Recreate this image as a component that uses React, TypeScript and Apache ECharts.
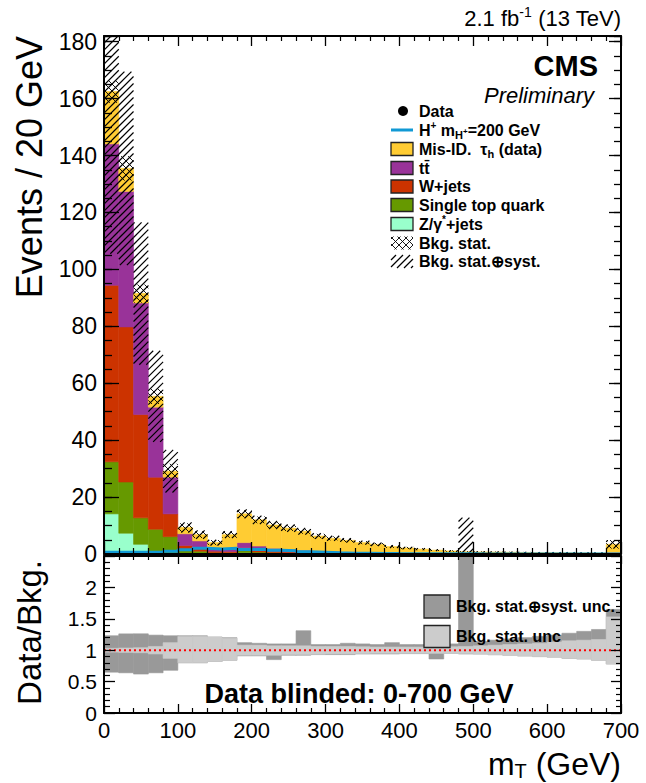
import React, { useEffect, useRef } from "react";
import * as echarts from "echarts";

const FONT = "'Liberation Sans', Arial, Helvetica, sans-serif";

// ---------------- data ----------------
const binEdges = [0, 20, 40, 60, 80, 100, 120, 140, 160, 180, 200, 220, 240, 260, 280, 300, 320, 340, 360, 380, 400, 420, 440, 460, 480, 500, 520, 540, 560, 580, 600, 620, 640, 660, 680, 700];

const zJets = [14.1, 7.3, 3.4, 0.6, 0.3, 0.3, 0.2, 0.1, 0.1, 0.4, 0.2, 0.1, 0.1, 0.1, 0.05, 0.05, 0.05, 0.03, 0.03, 0.02, 0.02, 0.02, 0.01, 0.01, 0.01, 0.01, 0.01, 0.01, 0, 0, 0, 0, 0, 0, 0.02];
const singleTop = [18.3, 18.0, 9.3, 8.1, 5.8, 0.9, 0.8, 0.4, 0.3, 0.8, 0.5, 0.4, 0.3, 0.3, 0.2, 0.2, 0.15, 0.1, 0.1, 0.08, 0.06, 0.05, 0.04, 0.03, 0.03, 0.02, 0.02, 0.02, 0.02, 0.01, 0.01, 0.01, 0.01, 0.01, 0.1];
const wJets = [62.0, 54.5, 36.3, 18.3, 8.0, 1.8, 1.2, 0.5, 0.5, 1.0, 0.6, 0.5, 0.4, 0.3, 0.25, 0.2, 0.2, 0.15, 0.1, 0.1, 0.08, 0.06, 0.05, 0.04, 0.03, 0.03, 0.03, 0.02, 0.02, 0.02, 0.02, 0.02, 0.01, 0.01, 0.15];
const ttbar = [49.7, 47.6, 39.2, 24.6, 12.9, 4.1, 2.4, 0.9, 0.9, 1.8, 1.5, 1.0, 0.8, 0.6, 0.5, 0.4, 0.35, 0.3, 0.25, 0.2, 0.15, 0.12, 0.1, 0.08, 0.07, 0.06, 0.06, 0.05, 0.05, 0.04, 0.04, 0.04, 0.03, 0.03, 0.3];
const misId = [18.4, 8.1, 3.3, 3.8, 2.1, 2.2, 2.2, 2.1, 5.0, 10.1, 9.2, 8.2, 7.5, 6.7, 5.3, 4.65, 4.05, 3.42, 2.92, 2.2, 1.79, 1.45, 1.15, 0.89, 0.66, 0.6, 0.55, 0.5, 0.45, 0.4, 0.38, 0.35, 0.33, 0.3, 2.83];
const signalH = [0.6, 0.6, 0.6, 0.7, 1.0, 1.5, 2.0, 1.8, 2.0, 1.6, 1.7, 1.3, 1.1, 0.8, 0.6, 0.4, 0.3, 0.25, 0.2, 0.15, 0.12, 0.1, 0.08, 0.06, 0.05, 0.04, 0.03, 0.02, 0.02, 0.01, 0.01, 0.01, 0.01, 0, 0];
const bkgSyst = [57, 34, 25, 16, 7.5, 1.8, 1.5, 1.0, 1.2, 1.6, 1.5, 1.4, 1.3, 1.2, 1.0, 0.9, 0.8, 0.7, 0.6, 0.5, 0.4, 0.35, 0.3, 0.25, 12, 0.2, 0.2, 0.2, 0.2, 0.18, 0.18, 0.18, 0.16, 0.16, 1.4];
const bkgStat = [4.0, 4.3, 3.2, 2.7, 2.6, 1.5, 1.2, 0.9, 1.1, 1.3, 1.2, 1.1, 1.0, 0.9, 0.8, 0.7, 0.6, 0.55, 0.5, 0.45, 0.4, 0.35, 0.3, 0.25, 0.2, 0.2, 0.2, 0.2, 0.2, 0.18, 0.18, 0.18, 0.16, 0.16, 1.5];

const ratioSystUp = [1.23, 1.26, 1.26, 1.24, 1.23, 1.23, 1.23, 1.21, 1.2, 1.12, 1.11, 1.1, 1.1, 1.31, 1.09, 1.09, 1.11, 1.1, 1.09, 1.12, 1.09, 1.09, 1.09, 1.1, 3.0, 1.14, 1.16, 1.18, 1.2, 1.22, 1.24, 1.27, 1.3, 1.33, 1.65];
const ratioSystDown = [0.65, 0.64, 0.62, 0.64, 0.68, 0.8, 0.8, 0.82, 0.84, 0.91, 0.91, 0.85, 0.92, 0.92, 0.93, 0.93, 0.93, 0.94, 0.94, 0.94, 0.945, 0.945, 0.86, 0.95, 0.94, 0.94, 0.93, 0.92, 0.91, 0.9, 0.89, 0.87, 0.86, 0.84, 0.78];
const ratioStatUp = [1.03, 1.035, 1.04, 1.06, 1.12, 1.22, 1.22, 1.21, 1.19, 1.08, 1.08, 1.07, 1.07, 1.07, 1.06, 1.06, 1.06, 1.055, 1.05, 1.05, 1.05, 1.05, 1.05, 1.055, 1.06, 1.07, 1.08, 1.09, 1.1, 1.11, 1.13, 1.15, 1.16, 1.17, 1.53];
const ratioStatDown = [0.97, 0.965, 0.96, 0.94, 0.87, 0.8, 0.8, 0.82, 0.84, 0.92, 0.92, 0.92, 0.93, 0.93, 0.935, 0.94, 0.94, 0.945, 0.95, 0.95, 0.95, 0.95, 0.95, 0.95, 0.945, 0.935, 0.925, 0.915, 0.905, 0.895, 0.885, 0.87, 0.86, 0.84, 0.78];

const upperYMax = 182;
const lowerYMax = 2.5;

const COLORS = {
  z: "#99ffcc",
  st: "#669900",
  w: "#cc3300",
  tt: "#993399",
  mis: "#ffcc33",
  sig: "#1199d4",
  dark: "#999999",
  light: "#cccccc",
};

// ---------------- helpers ----------------
function hatch(x0: number, y0: number, x1: number, y1: number, step: number, dir: number, lw = 1) {
  const out: any[] = [];
  if (x1 - x0 < 0.3 || y1 - y0 < 0.3) return out;
  const style = { stroke: "#000", lineWidth: lw };
  if (dir === 1) {
    const cMin = x0 + y0, cMax = x1 + y1;
    for (let c = Math.ceil(cMin / step) * step; c <= cMax; c += step) {
      const xa = Math.max(x0, c - y1), xb = Math.min(x1, c - y0);
      if (xb > xa) out.push({ type: "line", shape: { x1: xa, y1: c - xa, x2: xb, y2: c - xb }, style });
    }
  } else {
    const cMin = y0 - x1, cMax = y1 - x0;
    for (let c = Math.ceil(cMin / step) * step; c <= cMax; c += step) {
      const xa = Math.max(x0, y0 - c), xb = Math.min(x1, y1 - c);
      if (xb > xa) out.push({ type: "line", shape: { x1: xa, y1: xa + c, x2: xb, y2: xb + c }, style });
    }
  }
  return out;
}

function rectSeries(rows: number[][], color: string, xi: number, yi: number) {
  return {
    type: "custom",
    xAxisIndex: xi,
    yAxisIndex: yi,
    silent: true,
    clip: true,
    data: rows,
    renderItem: (_p: any, api: any) => {
      const a = api.coord([api.value(0), api.value(3)]);
      const b = api.coord([api.value(1), api.value(2)]);
      return {
        type: "rect",
        shape: { x: a[0], y: a[1], width: b[0] - a[0], height: b[1] - a[1] },
        style: { fill: color, stroke: color, lineWidth: 0.6 },
      };
    },
  };
}

function hatchSeries(rows: number[][], cross: boolean) {
  return {
    type: "custom",
    xAxisIndex: 0,
    yAxisIndex: 0,
    silent: true,
    clip: true,
    data: rows,
    renderItem: (_p: any, api: any) => {
      const a = api.coord([api.value(0), api.value(3)]);
      const b = api.coord([api.value(1), api.value(2)]);
      const children = cross
        ? [...hatch(a[0], a[1], b[0], b[1], 7, 1, 0.9), ...hatch(a[0], a[1], b[0], b[1], 7, -1, 0.9)]
        : hatch(a[0], a[1], b[0], b[1], 7, 1, 1.2);
      return { type: "group", children };
    },
  };
}

function txt(x: number, y: number, text: string, size: number, opts: any = {}) {
  return {
    type: "text",
    x,
    y,
    z: 100,
    rotation: opts.rotation || 0,
    silent: true,
    style: {
      text,
      fill: "#000",
      fontSize: size,
      fontWeight: opts.bold ? "bold" : "normal",
      fontStyle: opts.italic ? "italic" : "normal",
      fontFamily: FONT,
      align: opts.align || "left",
      textAlign: opts.align || "left",
      verticalAlign: "middle",
      textVerticalAlign: "middle",
      rich: opts.rich,
    },
  };
}

export default function App() {
  const ref = useRef<HTMLDivElement>(null);

  useEffect(() => {
    if (!ref.current) return;
    const chart = echarts.init(ref.current, null, { renderer: "svg" });

    const n = binEdges.length - 1;
    const procs = [
      { vals: zJets, color: COLORS.z },
      { vals: singleTop, color: COLORS.st },
      { vals: wJets, color: COLORS.w },
      { vals: ttbar, color: COLORS.tt },
      { vals: misId, color: COLORS.mis },
    ];
    const base = new Array(n).fill(0);
    const stackSeries = procs.map((p) => {
      const rows: number[][] = [];
      for (let i = 0; i < n; i++) {
        const b0 = base[i];
        const t0 = b0 + p.vals[i];
        base[i] = t0;
        if (p.vals[i] > 0) rows.push([binEdges[i], binEdges[i + 1], b0, Math.min(t0, upperYMax)]);
      }
      return rectSeries(rows, p.color, 0, 0);
    });
    const totals = base.slice();

    const systRows: number[][] = [];
    const statRows: number[][] = [];
    for (let i = 0; i < n; i++) {
      systRows.push([binEdges[i], binEdges[i + 1], Math.max(0, totals[i] - bkgSyst[i]), Math.min(upperYMax, totals[i] + bkgSyst[i])]);
      statRows.push([binEdges[i], binEdges[i + 1], Math.max(0, totals[i] - bkgStat[i]), Math.min(upperYMax, totals[i] + bkgStat[i])]);
    }

    const sigData: number[][] = [];
    for (let i = 0; i < n; i++) sigData.push([binEdges[i], signalH[i]]);
    sigData.push([binEdges[n], signalH[n - 1]]);

    const darkRows: number[][] = [];
    const lightRows: number[][] = [];
    for (let i = 0; i < n; i++) {
      darkRows.push([binEdges[i], binEdges[i + 1], ratioSystDown[i], Math.min(lowerYMax, ratioSystUp[i])]);
      lightRows.push([binEdges[i], binEdges[i + 1], ratioStatDown[i], Math.min(lowerYMax, ratioStatUp[i])]);
    }

    const black = "#000";
    const line2 = { show: true, onZero: false, lineStyle: { color: black, width: 2 } };
    const mkX = (grid: number, pos: string, major: number, minor: number, labels: boolean) => ({
      type: "value",
      gridIndex: grid,
      position: pos,
      min: 0,
      max: 700,
      interval: 100,
      z: 10,
      axisLine: line2,
      axisTick: { show: true, inside: true, length: major, lineStyle: { color: black, width: 1.3 } },
      minorTick: { show: true, splitNumber: 5, length: minor, lineStyle: { color: black, width: 1.2 } },
      axisLabel: labels
        ? { show: true, color: black, fontSize: 22, fontFamily: FONT, margin: 6 }
        : { show: false },
      splitLine: { show: false },
      minorSplitLine: { show: false },
    });
    const mkY = (grid: number, pos: string, max: number, interval: number, major: number, lineShow: boolean, labels: any, minor?: number) => ({
      type: "value",
      gridIndex: grid,
      position: pos,
      min: 0,
      max,
      interval,
      z: 10,
      axisLine: lineShow ? line2 : { show: false, onZero: false },
      axisTick: { show: true, inside: true, length: major, lineStyle: { color: black, width: 1.3 } },
      minorTick: minor ? { show: true, splitNumber: 5, length: minor, lineStyle: { color: black, width: 1.2 } } : { show: false },
      axisLabel: labels || { show: false },
      splitLine: { show: false },
      minorSplitLine: { show: false },
    });

    const legendRows = [111, 130, 149, 168, 186.5, 205, 224, 243, 261.5];
    const LX = 391, LW = 22, LH = 13, TX = 419;
    const boxColors = [COLORS.mis, COLORS.tt, COLORS.w, COLORS.st, COLORS.z];
    const rb = { fontSize: 16, fontWeight: "bold", fontFamily: FONT, fill: black, color: black, verticalAlign: "middle" };
    const legendRich = {
      b: rb,
      sup: { ...rb, fontSize: 10, padding: [0, 0, 10, 0] },
      sub: { ...rb, fontSize: 11, padding: [9, 0, 0, 0] },
      subsup: { ...rb, fontSize: 8, padding: [2, 0, 0, 0] },
    };
    const legendTexts = [
      "{b|Data}",
      "{b|H}{sup|+}{b| m}{sub|H}{subsup|+}{b|=200 GeV}",
      "{b|Mis-ID.  τ}{sub|h}{b| (data)}",
      "{b|tt\u0304}",
      "{b|W+jets}",
      "{b|Single top quark}",
      "{b|Z/γ}{sup|*}{b|+jets}",
      "{b|Bkg. stat.}",
      "{b|Bkg. stat.⊕syst.}",
    ];

    const graphics: any[] = [];
    legendTexts.forEach((t, i) => graphics.push(txt(TX, legendRows[i], t, 16, { bold: true, rich: legendRich })));
    graphics.push({ type: "circle", z: 100, silent: true, shape: { cx: 403, cy: legendRows[0], r: 5 }, style: { fill: black } });
    graphics.push({ type: "line", z: 100, silent: true, shape: { x1: LX, y1: legendRows[1], x2: LX + LW, y2: legendRows[1] }, style: { stroke: COLORS.sig, lineWidth: 3 } });
    boxColors.forEach((c, k) => {
      const cy = legendRows[2 + k];
      graphics.push({ type: "rect", z: 100, silent: true, shape: { x: LX, y: cy - LH / 2, width: LW, height: LH }, style: { fill: c, stroke: "#222", lineWidth: 1.3 } });
    });
    {
      const cy = legendRows[7];
      const x0 = LX, y0 = cy - LH / 2, x1 = LX + LW, y1 = cy + LH / 2;
      graphics.push({ type: "group", z: 100, silent: true, children: [...hatch(x0, y0, x1, y1, 7, 1, 0.9), ...hatch(x0, y0, x1, y1, 7, -1, 0.9)] });
      const cy2 = legendRows[8];
      graphics.push({ type: "group", z: 100, silent: true, children: hatch(x0, cy2 - LH / 2, x1, cy2 + LH / 2, 7, 1, 1.2) });
    }

    // lower legend
    graphics.push({ type: "rect", z: 100, silent: true, shape: { x: 424, y: 595, width: 26, height: 23 }, style: { fill: COLORS.dark, stroke: "#222", lineWidth: 1.3 } });
    graphics.push({ type: "rect", z: 100, silent: true, shape: { x: 424, y: 625.5, width: 26, height: 22 }, style: { fill: COLORS.light, stroke: "#222", lineWidth: 1.3 } });
    graphics.push(txt(456, 606.5, "Bkg. stat.⊕syst. unc.", 16, { bold: true }));
    graphics.push(txt(456, 636.5, "Bkg. stat. unc", 16, { bold: true }));
    graphics.push(txt(359, 694, "Data blinded: 0-700 GeV", 27, { bold: true, align: "center" }));

    // titles
    graphics.push(txt(598, 66, "CMS", 29, { bold: true, align: "right" }));
    graphics.push(txt(594, 95, "Preliminary", 22, { italic: true, align: "right" }));
    const rn = { fontSize: 22, fontFamily: FONT, fill: black, color: black, verticalAlign: "middle" };
    graphics.push(
      txt(621, 18, "{a|2.1 fb}{s|-1}{a| (13 TeV)}", 22, {
        align: "right",
        rich: { a: rn, s: { ...rn, fontSize: 14, padding: [0, 0, 12, 0] } },
      })
    );
    const rx = { fontSize: 32, fontFamily: FONT, fill: black, color: black, verticalAlign: "middle" };
    graphics.push(
      txt(621, 764, "{a|m}{s|T}{a| (GeV)}", 32, {
        align: "right",
        rich: { a: rx, s: { ...rx, fontSize: 20, padding: [14, 0, 0, 0] } },
      })
    );
    graphics.push(txt(29, 36, "Events / 20 GeV", 36, { align: "right", rotation: Math.PI / 2 }));
    graphics.push(txt(29, 560, "Data/Bkg.", 33, { align: "right", rotation: Math.PI / 2 }));

    const option: any = {
      animation: false,
      backgroundColor: "#ffffff",
      grid: [
        { left: 104, top: 36, width: 517, height: 518 },
        { left: 104, top: 556, width: 517, height: 157 },
      ],
      xAxis: [
        mkX(0, "bottom", 12, 6, false),
        mkX(0, "top", 10, 5, false),
        mkX(1, "bottom", 9, 5, true),
        mkX(1, "top", 8, 4, false),
      ],
      yAxis: [
        mkY(0, "left", upperYMax, 20, 15, true, {
          show: true,
          color: black,
          fontSize: 23,
          fontFamily: FONT,
          margin: 7,
          formatter: (v: number) => (Math.abs(v % 20) < 1e-6 ? String(v) : ""),
        }),
        mkY(0, "left", upperYMax, 5, 8, false, null),
        mkY(0, "right", upperYMax, 20, 12, true, null),
        mkY(0, "right", upperYMax, 5, 7, false, null),
        mkY(1, "left", lowerYMax, 0.5, 11, true, {
          show: true,
          color: black,
          fontSize: 21,
          fontFamily: FONT,
          margin: 7,
          formatter: (v: number) => (v >= 2.49 ? "" : String(v)),
        }, 6),
        mkY(1, "right", lowerYMax, 0.5, 10, true, null, 5),
      ],
      series: [
        ...stackSeries,
        hatchSeries(systRows, false),
        hatchSeries(statRows, true),
        {
          type: "line",
          xAxisIndex: 0,
          yAxisIndex: 0,
          step: "end",
          symbol: "none",
          silent: true,
          clip: true,
          data: sigData,
          lineStyle: { color: COLORS.sig, width: 3 },
        },
        rectSeries(darkRows, COLORS.dark, 2, 4),
        rectSeries(lightRows, COLORS.light, 2, 4),
        {
          type: "line",
          xAxisIndex: 2,
          yAxisIndex: 4,
          symbol: "none",
          silent: true,
          data: [
            [0, 1],
            [700, 1],
          ],
          lineStyle: { color: "#ff0000", width: 2, type: [2, 3] },
        },
      ],
      graphic: { elements: graphics },
    };

    chart.setOption(option);
    return () => chart.dispose();
  }, []);

  return (
    <div
      ref={ref}
      style={{ position: "fixed", left: 0, top: 0, width: 646, height: 783, background: "#fff" }}
    />
  );
}
